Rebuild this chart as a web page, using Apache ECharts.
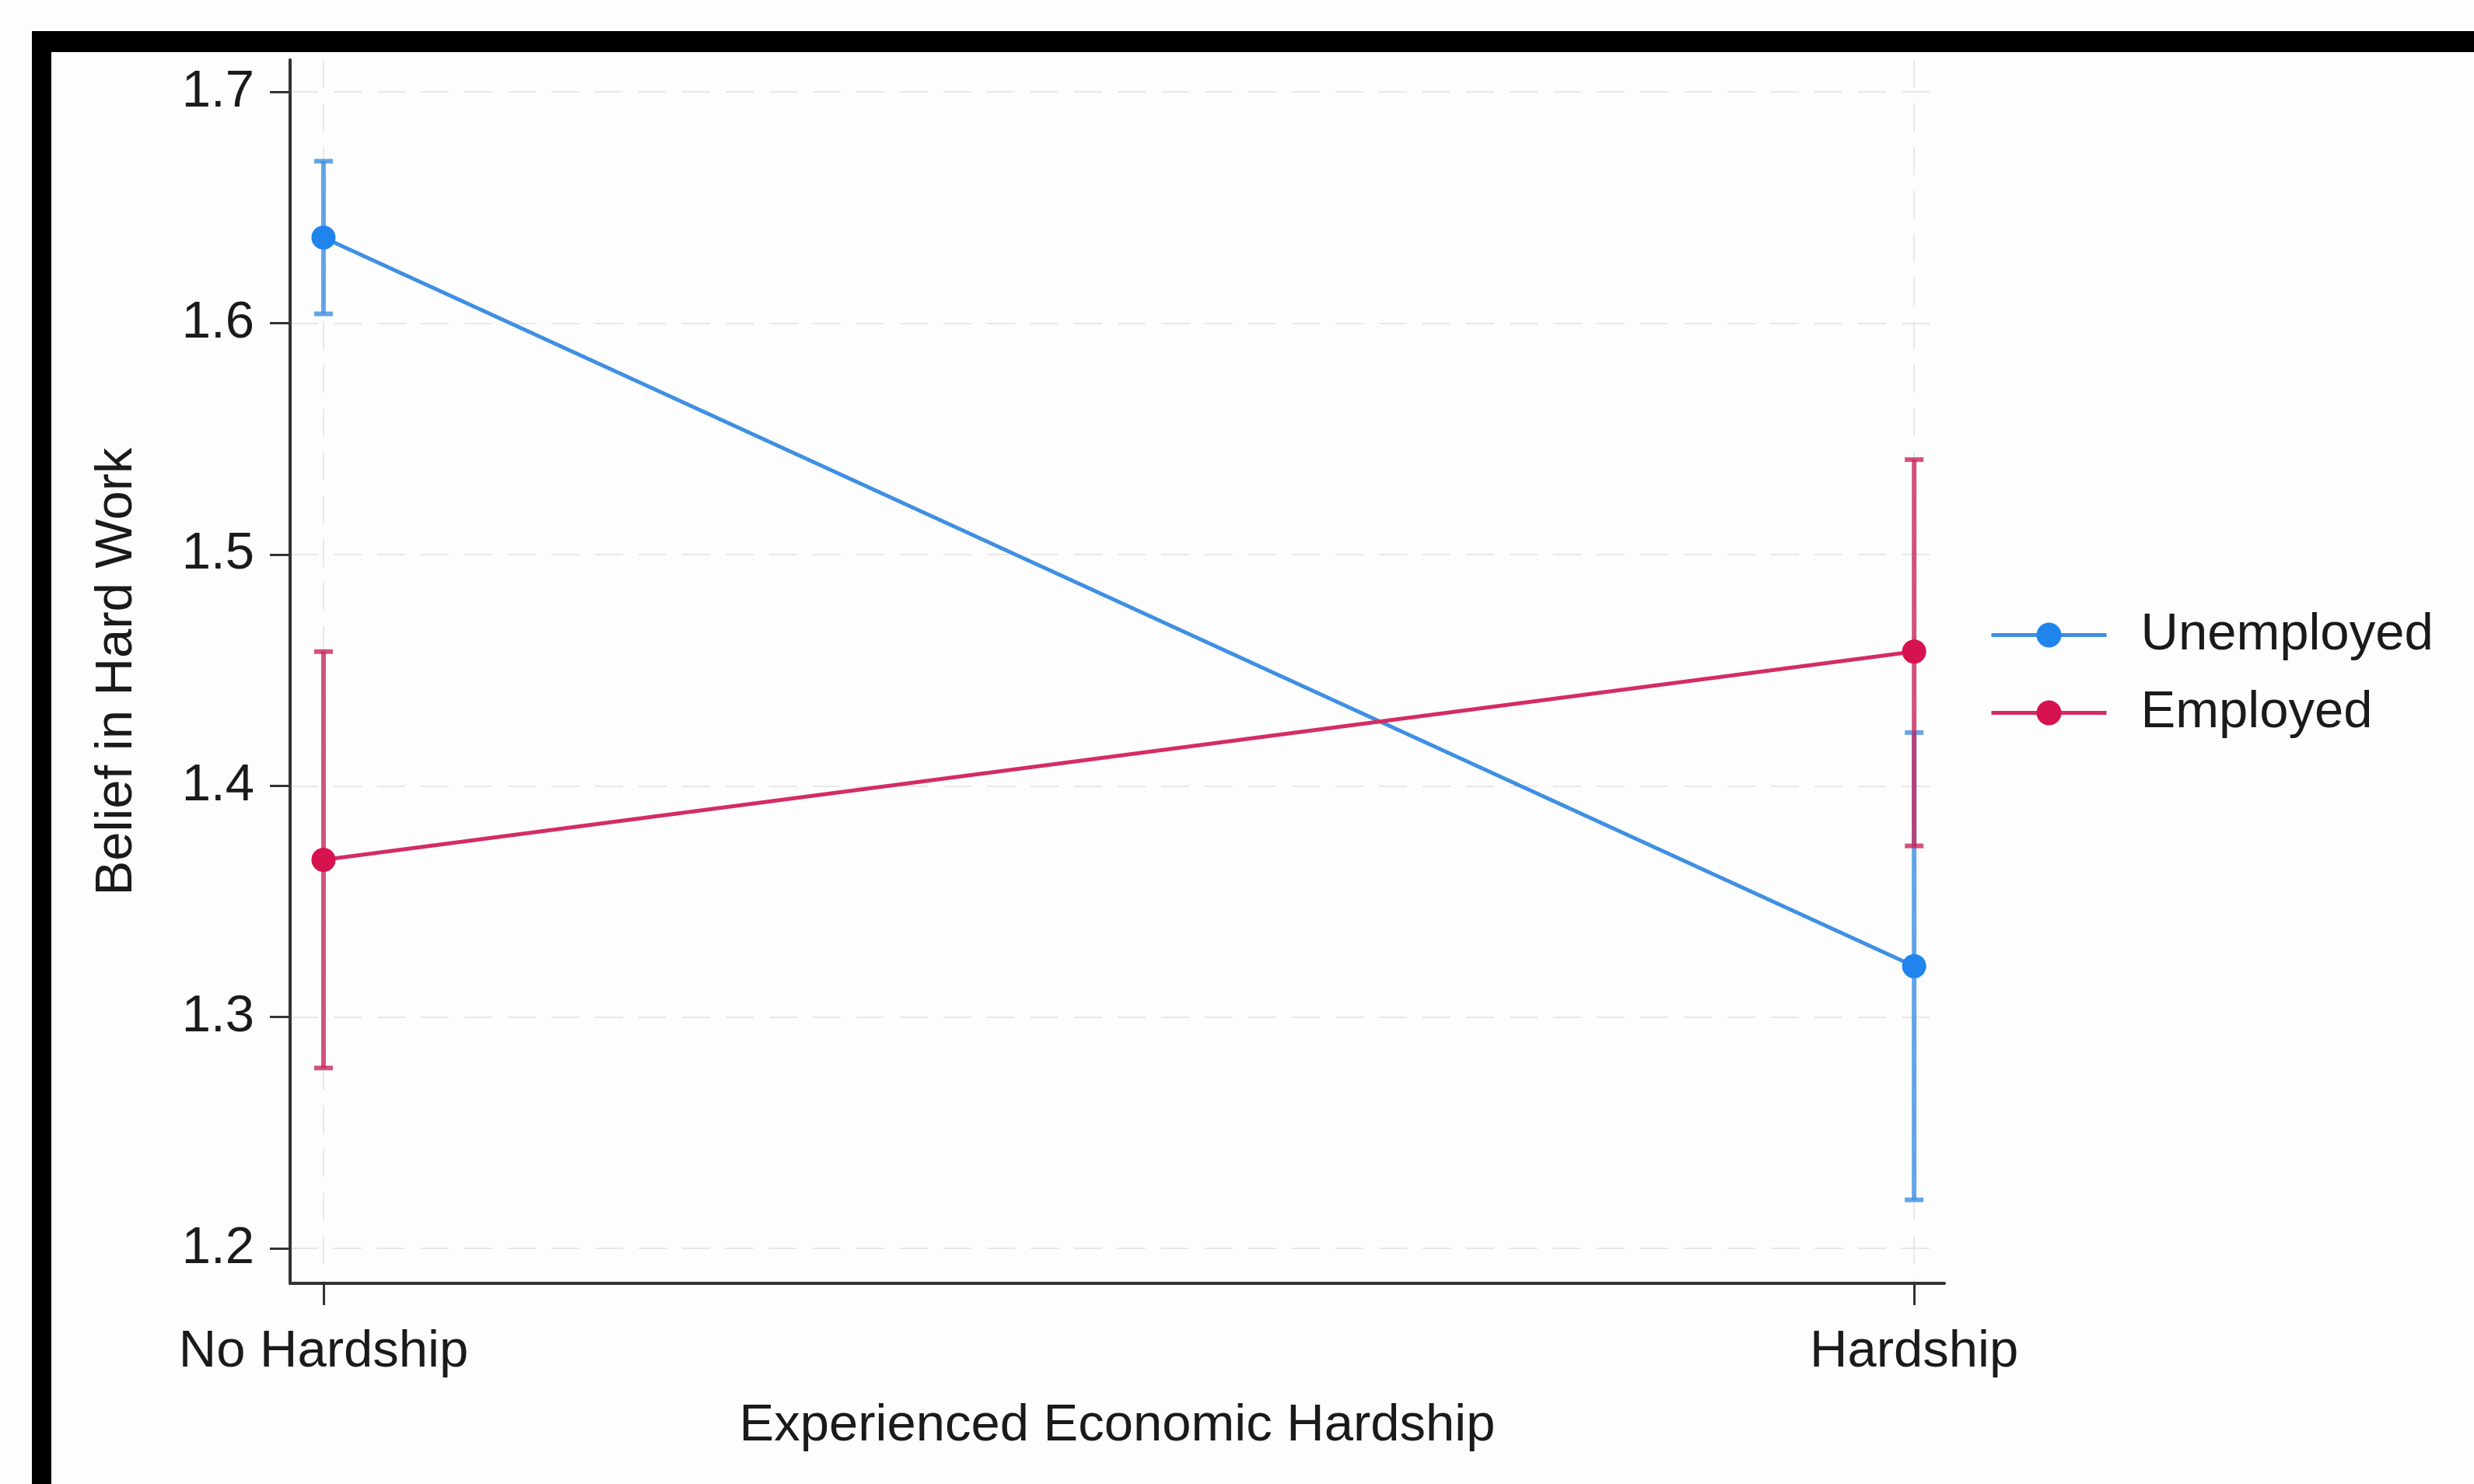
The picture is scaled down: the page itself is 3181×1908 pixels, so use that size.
<!DOCTYPE html>
<html>
<head>
<meta charset="utf-8">
<script src="https://cdn.jsdelivr.net/npm/echarts@6/dist/echarts.min.js"></script>
<style>
  html, body { margin: 0; padding: 0; background: #fdfdfd; }
  #chart { width: 3181px; height: 1908px; }
</style>
</head>
<body>
<div id="chart"></div>
<script>
const categories = ["No Hardship", "Hardship"];
const yTicks = [1.2, 1.3, 1.4, 1.5, 1.6, 1.7];
const xTicks = [0, 1];

const unemployedMean = [1.637, 1.322];
const unemployedLow = [1.604, 1.221];
const unemployedHigh = [1.670, 1.423];

const employedMean = [1.368, 1.458];
const employedLow = [1.278, 1.374];
const employedHigh = [1.458, 1.541];

const BLUE = "#1f84ec";
const BLUE_LINE = "#3f8fe2";
const RED = "#d6124f";
const RED_LINE = "#d42c63";
const FONT = "Liberation Sans";

function errorBars(name, low, high, color) {
  return {
    name: name,
    type: "custom",
    silent: true,
    z: 1,
    data: low.map((v, i) => [i, v, high[i]]),
    encode: { x: 0, y: [1, 2] },
    renderItem(params, api) {
      const lo = api.coord([api.value(0), api.value(1)]);
      const hi = api.coord([api.value(0), api.value(2)]);
      const style = { stroke: color, lineWidth: 6, opacity: 0.8 };
      return {
        type: "group",
        children: [
          { type: "line", shape: { x1: lo[0], y1: lo[1], x2: hi[0], y2: hi[1] }, style },
          { type: "line", shape: { x1: hi[0] - 12, y1: hi[1], x2: hi[0] + 12, y2: hi[1] }, style },
          { type: "line", shape: { x1: lo[0] - 12, y1: lo[1], x2: lo[0] + 12, y2: lo[1] }, style },
        ],
      };
    },
  };
}

function meanLine(name, values, lineColor, dotColor) {
  return {
    name: name,
    type: "line",
    z: 3,
    data: values.map((v, i) => [i, v]),
    symbol: "circle",
    symbolSize: 31,
    lineStyle: { color: lineColor, width: 5 },
    itemStyle: { color: dotColor },
  };
}

const chart = echarts.init(document.getElementById("chart"));

chart.setOption({
  animation: false,
  backgroundColor: "#fdfdfd",
  textStyle: { fontFamily: FONT },
  grid: { left: 373, right: 681, top: 77, bottom: 258 },
  xAxis: {
    type: "value",
    min: -0.021,
    max: 1.019,
    axisLine: { show: true, onZero: false, lineStyle: { color: "#333", width: 4 } },
    axisTick: { show: true, length: 28, customValues: xTicks, lineStyle: { color: "#333", width: 3 } },
    axisLabel: {
      customValues: xTicks,
      formatter: (v) => categories[Math.round(v)],
      fontSize: 67,
      margin: 55,
      color: "#1a1a1a",
      fontFamily: FONT,
    },
    splitLine: { show: true, lineStyle: { type: [36, 20], color: "#e8e8e8", width: 2 } },
    name: "Experienced Economic Hardship",
    nameLocation: "middle",
    nameGap: 150,
    nameTextStyle: { fontSize: 67, color: "#1a1a1a", fontFamily: FONT },
  },
  yAxis: {
    type: "value",
    min: 1.1849,
    max: 1.7138,
    axisLine: { show: true, onZero: false, lineStyle: { color: "#333", width: 4 } },
    axisTick: { show: true, length: 26, customValues: yTicks, lineStyle: { color: "#333", width: 3 } },
    axisLabel: {
      customValues: yTicks,
      formatter: (v) => v.toFixed(1),
      fontSize: 67,
      margin: 46,
      color: "#1a1a1a",
      fontFamily: FONT,
    },
    splitLine: { show: true, lineStyle: { type: [36, 20], color: "#e8e8e8", width: 2 } },
    name: "Belief in Hard Work",
    nameLocation: "middle",
    nameGap: 189,
    nameTextStyle: { fontSize: 67, color: "#1a1a1a", fontFamily: FONT },
  },
  legend: {
    orient: "vertical",
    left: 2553,
    top: 778,
    data: ["Unemployed", "Employed"],
    itemWidth: 148,
    itemHeight: 40,
    itemGap: 33,
    lineStyle: { width: 5 },
    textStyle: { fontSize: 67, color: "#1a1a1a", fontFamily: FONT, padding: [0, 0, 0, 39] },
  },
  graphic: [
    { type: "rect", left: 41, top: 40, shape: { width: 3140, height: 27 }, style: { fill: "#000" } },
    { type: "rect", left: 41, top: 40, shape: { width: 25, height: 1868 }, style: { fill: "#000" } },
  ],
  series: [
    errorBars("Unemployed CI", unemployedLow, unemployedHigh, BLUE_LINE),
    errorBars("Employed CI", employedLow, employedHigh, "#c8285f"),
    meanLine("Unemployed", unemployedMean, BLUE_LINE, BLUE),
    meanLine("Employed", employedMean, RED_LINE, RED),
  ],
});
</script>
</body>
</html>
